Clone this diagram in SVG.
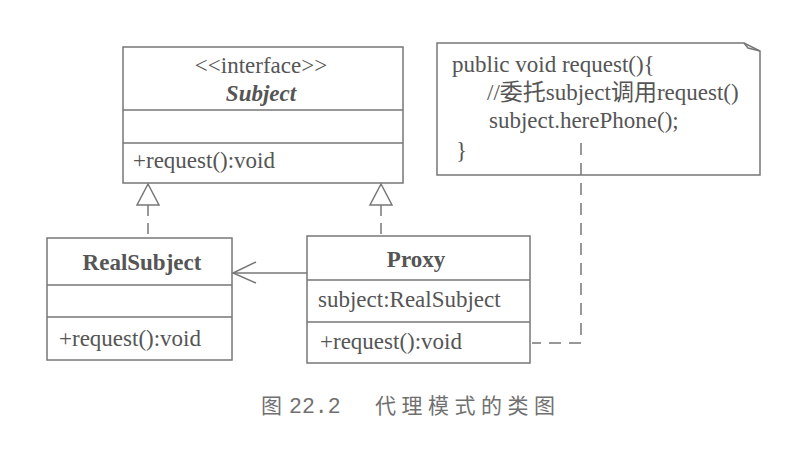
<svg xmlns="http://www.w3.org/2000/svg" width="804" height="460" viewBox="0 0 804 460">
<style>
.box{fill:#fff;stroke:#777;stroke-width:1.5}
.ln{stroke:#777;stroke-width:1.5;fill:none}
.dash{stroke:#777;stroke-width:1.5;fill:none;stroke-dasharray:11 7}
.t{font-family:"Liberation Serif","Noto Sans CJK SC",serif;font-size:23px;fill:#555}
.b{font-weight:bold}
.bi{font-weight:bold;font-style:italic}
.c{text-anchor:middle}
.cap{font-family:"Noto Sans CJK SC",sans-serif;font-size:21px;fill:#707070}
.mono{font-family:"Liberation Mono",monospace;font-size:21.5px}
</style>
<rect width="804" height="460" fill="#fff"/>
<g id="subject">
<rect class="box" x="123" y="47" width="280" height="136"/>
<path class="ln" d="M123,110 H403 M123,143 H403"/>
<text class="t c" x="261" y="73">&lt;&lt;interface&gt;&gt;</text>
<text class="t bi c" x="261" y="101">Subject</text>
<text class="t" x="133" y="168">+request():void</text>
</g>
<g id="realsubject">
<rect class="box" x="47" y="238" width="185" height="122"/>
<path class="ln" d="M47,285 H232 M47,317 H232"/>
<text class="t b c" x="142" y="270">RealSubject</text>
<text class="t" x="59" y="346">+request():void</text>
</g>
<g id="proxy">
<rect class="box" x="307" y="236" width="223" height="127"/>
<path class="ln" d="M307,280 H530 M307,322 H530"/>
<text class="t b c" x="416" y="267">Proxy</text>
<text class="t" x="318" y="307">subject:RealSubject</text>
<text class="t" x="320" y="349">+request():void</text>
</g>
<g id="note">
<polygon class="box" points="437,43 744,43 760,51 760,175 437,175"/>
<path class="ln" d="M744,43 L748,48 L760,51"/>
<text class="t" x="452" y="72">public void request(){</text>
<text class="t" x="487" y="100">//委托subject调用request()</text>
<text class="t" x="489" y="128">subject.herePhone();</text>
<text class="t" x="456" y="158">}</text>
</g>
<g id="connectors">
<path class="dash" d="M148,205 V238"/>
<polygon class="ln" points="148,184 137,205 159,205" fill="#fff"/>
<path class="dash" d="M381,205 V236"/>
<polygon class="ln" points="381,184 370,205 392,205" fill="#fff"/>
<path class="ln" d="M307,273 H233"/>
<path class="ln" d="M256,262 L233,273 L256,283"/>
<path class="dash" d="M581,143 V343 H532" style="stroke-dasharray:12 8"/>
</g>
<g id="caption">
<text class="cap" x="261" y="413">图</text>
<text class="cap mono" x="289" y="413">22.2</text>
<text class="cap" x="375" y="413" letter-spacing="5.5">代理模式的类图</text>
</g>
</svg>
